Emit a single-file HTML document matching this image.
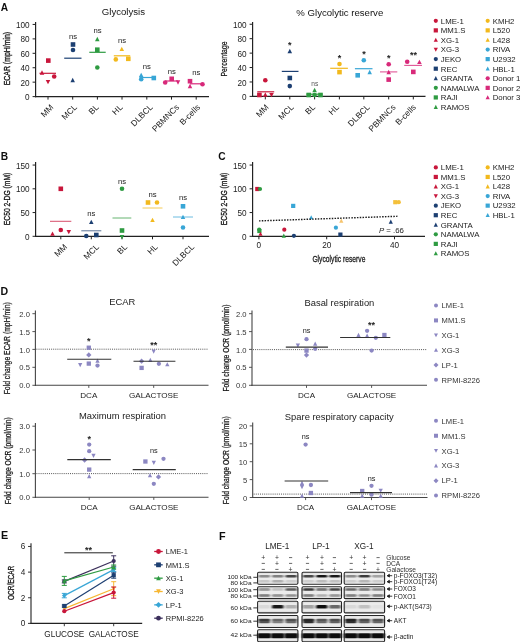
<!DOCTYPE html>
<html><head><meta charset="utf-8"><style>
html,body{margin:0;padding:0;background:#fff;}
svg{display:block;}
text{font-family:"Liberation Sans",sans-serif;}
</style></head><body>
<svg width="520" height="642" viewBox="0 0 520 642">
<rect width="520" height="642" fill="#fff"/>
<defs><filter id="gb" x="0" y="0" width="520" height="642" filterUnits="userSpaceOnUse"><feGaussianBlur stdDeviation="0.35"/></filter></defs>
<g filter="url(#gb)">
<text x="0.80" y="11.00" font-size="10.2" font-weight="bold" fill="#111" >A</text>
<text x="123.40" y="15.40" font-size="9.6" text-anchor="middle" fill="#151515" >Glycolysis</text>
<line x1="35.60" y1="22.00" x2="35.60" y2="97.20" stroke="#222" stroke-width="1.2" />
<line x1="32.60" y1="96.60" x2="35.60" y2="96.60" stroke="#222" stroke-width="1.0" />
<text x="29.60" y="100.15" font-size="8.2" text-anchor="end" fill="#222" >0</text>
<line x1="32.60" y1="82.17" x2="35.60" y2="82.17" stroke="#222" stroke-width="1.0" />
<text x="29.60" y="85.72" font-size="8.2" text-anchor="end" fill="#222" >20</text>
<line x1="32.60" y1="67.74" x2="35.60" y2="67.74" stroke="#222" stroke-width="1.0" />
<text x="29.60" y="71.29" font-size="8.2" text-anchor="end" fill="#222" >40</text>
<line x1="32.60" y1="53.31" x2="35.60" y2="53.31" stroke="#222" stroke-width="1.0" />
<text x="29.60" y="56.86" font-size="8.2" text-anchor="end" fill="#222" >60</text>
<line x1="32.60" y1="38.88" x2="35.60" y2="38.88" stroke="#222" stroke-width="1.0" />
<text x="29.60" y="42.43" font-size="8.2" text-anchor="end" fill="#222" >80</text>
<line x1="32.60" y1="24.45" x2="35.60" y2="24.45" stroke="#222" stroke-width="1.0" />
<text x="29.60" y="28.00" font-size="8.2" text-anchor="end" fill="#222" >100</text>
<line x1="35.00" y1="96.60" x2="209.00" y2="96.60" stroke="#222" stroke-width="1.2" />
<line x1="48.00" y1="96.60" x2="48.00" y2="99.60" stroke="#222" stroke-width="1.0" />
<line x1="72.70" y1="96.60" x2="72.70" y2="99.60" stroke="#222" stroke-width="1.0" />
<line x1="97.40" y1="96.60" x2="97.40" y2="99.60" stroke="#222" stroke-width="1.0" />
<line x1="122.00" y1="96.60" x2="122.00" y2="99.60" stroke="#222" stroke-width="1.0" />
<line x1="146.80" y1="96.60" x2="146.80" y2="99.60" stroke="#222" stroke-width="1.0" />
<line x1="171.50" y1="96.60" x2="171.50" y2="99.60" stroke="#222" stroke-width="1.0" />
<line x1="196.20" y1="96.60" x2="196.20" y2="99.60" stroke="#222" stroke-width="1.0" />
<text transform="translate(10.20,58.60) rotate(-90)" font-size="9.4" font-weight="normal" text-anchor="middle" textLength="53.5" lengthAdjust="spacingAndGlyphs" stroke="#1a1a1a" stroke-width="0.35" fill="#1a1a1a">ECAR (mpH/min)</text>
<text transform="translate(54.00,107.80) rotate(-45)" font-size="8.4" text-anchor="end" fill="#222">MM</text>
<text transform="translate(77.60,107.80) rotate(-45)" font-size="8.4" text-anchor="end" fill="#222">MCL</text>
<text transform="translate(99.30,107.80) rotate(-45)" font-size="8.4" text-anchor="end" fill="#222">BL</text>
<text transform="translate(123.20,107.80) rotate(-45)" font-size="8.4" text-anchor="end" fill="#222">HL</text>
<text transform="translate(153.30,107.80) rotate(-45)" font-size="8.4" text-anchor="end" fill="#222">DLBCL</text>
<text transform="translate(179.80,107.80) rotate(-45)" font-size="8.4" text-anchor="end" fill="#222">PBMNCs</text>
<text transform="translate(200.70,107.80) rotate(-45)" font-size="8.4" text-anchor="end" fill="#222">B-cells</text>
<rect x="46.00" y="58.30" width="4.60" height="4.60" fill="#C8163A"/>
<path d="M42.00,70.23L44.27,74.67L39.73,74.67Z" fill="#C8163A"/>
<circle cx="54.20" cy="76.50" r="2.30" fill="#C8163A"/>
<path d="M48.00,84.37L50.27,79.93L45.73,79.93Z" fill="#C8163A"/>
<line x1="39.50" y1="73.30" x2="56.00" y2="73.30" stroke="#C8163A" stroke-width="1.2" stroke-opacity="1.0"/>
<rect x="70.70" y="42.20" width="4.60" height="4.60" fill="#1E3F72"/>
<circle cx="73.00" cy="50.00" r="2.30" fill="#1E3F72"/>
<path d="M72.70,77.83L74.97,82.27L70.43,82.27Z" fill="#1E3F72"/>
<line x1="64.20" y1="58.20" x2="81.50" y2="58.20" stroke="#1E3F72" stroke-width="1.2" stroke-opacity="1.0"/>
<path d="M97.30,36.73L99.57,41.17L95.03,41.17Z" fill="#2F9B42"/>
<rect x="95.00" y="47.40" width="4.60" height="4.60" fill="#2F9B42"/>
<circle cx="97.30" cy="67.50" r="2.30" fill="#2F9B42"/>
<line x1="89.30" y1="52.30" x2="105.70" y2="52.30" stroke="#2F9B42" stroke-width="1.2" stroke-opacity="1.0"/>
<path d="M121.80,46.63L124.07,51.07L119.53,51.07Z" fill="#F2B91E"/>
<circle cx="115.80" cy="59.40" r="2.30" fill="#F2B91E"/>
<rect x="126.00" y="56.50" width="4.60" height="4.60" fill="#F2B91E"/>
<line x1="113.80" y1="55.80" x2="130.20" y2="55.80" stroke="#F2B91E" stroke-width="1.2" stroke-opacity="1.0"/>
<path d="M141.20,72.63L143.47,77.07L138.93,77.07Z" fill="#39A6D6"/>
<circle cx="141.20" cy="79.20" r="2.30" fill="#39A6D6"/>
<rect x="151.50" y="75.70" width="4.60" height="4.60" fill="#39A6D6"/>
<line x1="139.50" y1="77.50" x2="153.80" y2="77.50" stroke="#39A6D6" stroke-width="1.2" stroke-opacity="1.0"/>
<circle cx="165.20" cy="82.50" r="2.30" fill="#D8297A"/>
<rect x="169.40" y="76.50" width="4.60" height="4.60" fill="#D8297A"/>
<path d="M178.00,84.67L180.27,80.23L175.73,80.23Z" fill="#D8297A"/>
<line x1="165.00" y1="81.00" x2="178.00" y2="81.00" stroke="#D8297A" stroke-width="1.2" stroke-opacity="1.0"/>
<rect x="187.70" y="78.90" width="4.60" height="4.60" fill="#D8297A"/>
<path d="M190.00,83.83L192.27,88.27L187.73,88.27Z" fill="#D8297A"/>
<circle cx="202.50" cy="84.20" r="2.30" fill="#D8297A"/>
<line x1="190.00" y1="83.80" x2="202.50" y2="83.80" stroke="#D8297A" stroke-width="1.2" stroke-opacity="1.0"/>
<text x="73.00" y="39.40" font-size="7.7" text-anchor="middle" fill="#222" >ns</text>
<text x="97.50" y="33.40" font-size="7.7" text-anchor="middle" fill="#222" >ns</text>
<text x="122.00" y="43.20" font-size="7.7" text-anchor="middle" fill="#222" >ns</text>
<text x="146.80" y="69.20" font-size="7.7" text-anchor="middle" fill="#222" >ns</text>
<text x="171.70" y="73.60" font-size="7.7" text-anchor="middle" fill="#222" >ns</text>
<text x="196.20" y="75.40" font-size="7.7" text-anchor="middle" fill="#222" >ns</text>
<line x1="252.60" y1="22.00" x2="252.60" y2="97.00" stroke="#222" stroke-width="1.2" />
<line x1="249.60" y1="96.40" x2="252.60" y2="96.40" stroke="#222" stroke-width="1.0" />
<text x="246.60" y="99.95" font-size="8.2" text-anchor="end" fill="#222" >0</text>
<line x1="249.60" y1="81.97" x2="252.60" y2="81.97" stroke="#222" stroke-width="1.0" />
<text x="246.60" y="85.52" font-size="8.2" text-anchor="end" fill="#222" >20</text>
<line x1="249.60" y1="67.54" x2="252.60" y2="67.54" stroke="#222" stroke-width="1.0" />
<text x="246.60" y="71.09" font-size="8.2" text-anchor="end" fill="#222" >40</text>
<line x1="249.60" y1="53.11" x2="252.60" y2="53.11" stroke="#222" stroke-width="1.0" />
<text x="246.60" y="56.66" font-size="8.2" text-anchor="end" fill="#222" >60</text>
<line x1="249.60" y1="38.68" x2="252.60" y2="38.68" stroke="#222" stroke-width="1.0" />
<text x="246.60" y="42.23" font-size="8.2" text-anchor="end" fill="#222" >80</text>
<line x1="249.60" y1="24.25" x2="252.60" y2="24.25" stroke="#222" stroke-width="1.0" />
<text x="246.60" y="27.80" font-size="8.2" text-anchor="end" fill="#222" >100</text>
<line x1="252.00" y1="96.40" x2="425.50" y2="96.40" stroke="#222" stroke-width="1.2" />
<line x1="265.30" y1="96.40" x2="265.30" y2="99.40" stroke="#222" stroke-width="1.0" />
<line x1="289.80" y1="96.40" x2="289.80" y2="99.40" stroke="#222" stroke-width="1.0" />
<line x1="314.60" y1="96.40" x2="314.60" y2="99.40" stroke="#222" stroke-width="1.0" />
<line x1="339.40" y1="96.40" x2="339.40" y2="99.40" stroke="#222" stroke-width="1.0" />
<line x1="363.80" y1="96.40" x2="363.80" y2="99.40" stroke="#222" stroke-width="1.0" />
<line x1="388.70" y1="96.40" x2="388.70" y2="99.40" stroke="#222" stroke-width="1.0" />
<line x1="413.30" y1="96.40" x2="413.30" y2="99.40" stroke="#222" stroke-width="1.0" />
<text transform="translate(226.60,59.00) rotate(-90)" font-size="9.0" font-weight="normal" text-anchor="middle" textLength="35" lengthAdjust="spacingAndGlyphs" stroke="#1a1a1a" stroke-width="0.25" fill="#1a1a1a">Percentage</text>
<text x="339.80" y="15.60" font-size="9.6" text-anchor="middle" fill="#151515" >% Glycolytic reserve</text>
<text transform="translate(269.30,107.80) rotate(-45)" font-size="8.4" text-anchor="end" fill="#222">MM</text>
<text transform="translate(294.30,107.80) rotate(-45)" font-size="8.4" text-anchor="end" fill="#222">MCL</text>
<text transform="translate(315.80,107.80) rotate(-45)" font-size="8.4" text-anchor="end" fill="#222">BL</text>
<text transform="translate(339.60,107.80) rotate(-45)" font-size="8.4" text-anchor="end" fill="#222">HL</text>
<text transform="translate(370.40,107.80) rotate(-45)" font-size="8.4" text-anchor="end" fill="#222">DLBCL</text>
<text transform="translate(396.30,107.80) rotate(-45)" font-size="8.4" text-anchor="end" fill="#222">PBMNCs</text>
<text transform="translate(416.50,107.80) rotate(-45)" font-size="8.4" text-anchor="end" fill="#222">B-cells</text>
<circle cx="265.30" cy="80.20" r="2.30" fill="#C8163A"/>
<rect x="257.10" y="92.70" width="4.60" height="4.60" fill="#C8163A"/>
<path d="M265.30,92.23L267.57,96.67L263.03,96.67Z" fill="#C8163A"/>
<path d="M271.50,97.37L273.77,92.93L269.23,92.93Z" fill="#C8163A"/>
<line x1="257.30" y1="91.80" x2="274.20" y2="91.80" stroke="#C8163A" stroke-width="1.2" stroke-opacity="1.0"/>
<path d="M289.80,48.83L292.07,53.27L287.53,53.27Z" fill="#1E3F72"/>
<rect x="287.50" y="75.70" width="4.60" height="4.60" fill="#1E3F72"/>
<circle cx="289.80" cy="86.10" r="2.30" fill="#1E3F72"/>
<line x1="281.80" y1="71.40" x2="298.50" y2="71.40" stroke="#1E3F72" stroke-width="1.2" stroke-opacity="1.0"/>
<path d="M314.60,87.83L316.87,92.27L312.33,92.27Z" fill="#2F9B42"/>
<rect x="306.40" y="92.70" width="4.60" height="4.60" fill="#2F9B42"/>
<circle cx="314.60" cy="95.00" r="2.30" fill="#2F9B42"/>
<rect x="318.20" y="92.70" width="4.60" height="4.60" fill="#2F9B42"/>
<line x1="306.50" y1="94.20" x2="322.50" y2="94.20" stroke="#2F9B42" stroke-width="1.2" stroke-opacity="1.0"/>
<circle cx="339.50" cy="64.00" r="2.30" fill="#F2B91E"/>
<rect x="337.20" y="69.80" width="4.60" height="4.60" fill="#F2B91E"/>
<line x1="330.20" y1="68.30" x2="347.90" y2="68.30" stroke="#F2B91E" stroke-width="1.2" stroke-opacity="1.0"/>
<circle cx="363.80" cy="60.20" r="2.30" fill="#39A6D6"/>
<rect x="355.40" y="73.00" width="4.60" height="4.60" fill="#39A6D6"/>
<path d="M369.70,69.73L371.97,74.17L367.43,74.17Z" fill="#39A6D6"/>
<line x1="354.90" y1="68.70" x2="372.50" y2="68.70" stroke="#39A6D6" stroke-width="1.2" stroke-opacity="1.0"/>
<circle cx="388.70" cy="64.30" r="2.30" fill="#D8297A"/>
<path d="M388.70,69.73L390.97,74.17L386.43,74.17Z" fill="#D8297A"/>
<rect x="386.40" y="77.30" width="4.60" height="4.60" fill="#D8297A"/>
<line x1="380.00" y1="71.90" x2="397.30" y2="71.90" stroke="#D8297A" stroke-width="1.1" stroke-opacity="0.8"/>
<circle cx="407.20" cy="61.70" r="2.30" fill="#D8297A"/>
<path d="M419.40,59.63L421.67,64.07L417.13,64.07Z" fill="#D8297A"/>
<rect x="411.00" y="69.60" width="4.60" height="4.60" fill="#D8297A"/>
<line x1="404.20" y1="65.40" x2="422.00" y2="65.40" stroke="#D8297A" stroke-width="1.1" stroke-opacity="0.8"/>
<text x="289.80" y="47.50" font-size="9" text-anchor="middle" font-weight="bold" fill="#222" >*</text>
<text x="339.50" y="61.10" font-size="9" text-anchor="middle" font-weight="bold" fill="#222" >*</text>
<text x="364.00" y="57.30" font-size="9" text-anchor="middle" font-weight="bold" fill="#222" >*</text>
<text x="388.75" y="61.10" font-size="9" text-anchor="middle" font-weight="bold" fill="#222" >*</text>
<text x="413.50" y="58.40" font-size="9" text-anchor="middle" font-weight="bold" fill="#222" >**</text>
<text x="314.80" y="85.60" font-size="6.6" text-anchor="middle" fill="#555" >ns</text>
<circle cx="435.80" cy="20.80" r="2.10" fill="#C8163A"/>
<text x="440.80" y="23.60" font-size="7.8" fill="#222" >LME-1</text>
<rect x="433.70" y="28.28" width="4.20" height="4.20" fill="#C8163A"/>
<text x="440.80" y="33.18" font-size="7.8" fill="#222" >MM1.S</text>
<path d="M435.80,37.77L437.89,41.85L433.71,41.85Z" fill="#C8163A"/>
<text x="440.80" y="42.76" font-size="7.8" fill="#222" >XG-1</text>
<path d="M435.80,51.73L437.89,47.65L433.71,47.65Z" fill="#C8163A"/>
<text x="440.80" y="52.34" font-size="7.8" fill="#222" >XG-3</text>
<circle cx="435.80" cy="59.12" r="2.10" fill="#1E3F72"/>
<text x="440.80" y="61.92" font-size="7.8" fill="#222" >JEKO</text>
<rect x="433.70" y="66.60" width="4.20" height="4.20" fill="#1E3F72"/>
<text x="440.80" y="71.50" font-size="7.8" fill="#222" >REC</text>
<path d="M435.80,76.09L437.89,80.17L433.71,80.17Z" fill="#1E3F72"/>
<text x="440.80" y="81.08" font-size="7.8" fill="#222" >GRANTA</text>
<circle cx="435.80" cy="87.86" r="2.10" fill="#2F9B42"/>
<text x="440.80" y="90.66" font-size="7.8" fill="#222" >NAMALWA</text>
<rect x="433.70" y="95.34" width="4.20" height="4.20" fill="#2F9B42"/>
<text x="440.80" y="100.24" font-size="7.8" fill="#222" >RAJI</text>
<path d="M435.80,104.83L437.89,108.91L433.71,108.91Z" fill="#2F9B42"/>
<text x="440.80" y="109.82" font-size="7.8" fill="#222" >RAMOS</text>
<circle cx="487.70" cy="20.80" r="2.10" fill="#F2B91E"/>
<text x="492.70" y="23.60" font-size="7.8" fill="#222" >KMH2</text>
<rect x="485.60" y="28.28" width="4.20" height="4.20" fill="#F2B91E"/>
<text x="492.70" y="33.18" font-size="7.8" fill="#222" >L520</text>
<path d="M487.70,37.77L489.79,41.85L485.61,41.85Z" fill="#F2B91E"/>
<text x="492.70" y="42.76" font-size="7.8" fill="#222" >L428</text>
<circle cx="487.70" cy="49.54" r="2.10" fill="#39A6D6"/>
<text x="492.70" y="52.34" font-size="7.8" fill="#222" >RIVA</text>
<rect x="485.60" y="57.02" width="4.20" height="4.20" fill="#39A6D6"/>
<text x="492.70" y="61.92" font-size="7.8" fill="#222" >U2932</text>
<path d="M487.70,66.51L489.79,70.59L485.61,70.59Z" fill="#39A6D6"/>
<text x="492.70" y="71.50" font-size="7.8" fill="#222" >HBL-1</text>
<circle cx="487.70" cy="78.28" r="2.10" fill="#D8297A"/>
<text x="492.70" y="81.08" font-size="7.8" fill="#222" >Donor 1</text>
<rect x="485.60" y="85.76" width="4.20" height="4.20" fill="#D8297A"/>
<text x="492.70" y="90.66" font-size="7.8" fill="#222" >Donor 2</text>
<path d="M487.70,95.25L489.79,99.33L485.61,99.33Z" fill="#D8297A"/>
<text x="492.70" y="100.24" font-size="7.8" fill="#222" >Donor 3</text>
<text x="0.80" y="159.50" font-size="10.2" font-weight="bold" fill="#111" >B</text>
<line x1="35.60" y1="162.00" x2="35.60" y2="236.90" stroke="#222" stroke-width="1.2" />
<line x1="32.60" y1="236.30" x2="35.60" y2="236.30" stroke="#222" stroke-width="1.0" />
<text x="29.60" y="239.85" font-size="8.2" text-anchor="end" fill="#222" >0</text>
<line x1="32.60" y1="212.55" x2="35.60" y2="212.55" stroke="#222" stroke-width="1.0" />
<text x="29.60" y="216.10" font-size="8.2" text-anchor="end" fill="#222" >50</text>
<line x1="32.60" y1="188.80" x2="35.60" y2="188.80" stroke="#222" stroke-width="1.0" />
<text x="29.60" y="192.35" font-size="8.2" text-anchor="end" fill="#222" >100</text>
<line x1="32.60" y1="165.05" x2="35.60" y2="165.05" stroke="#222" stroke-width="1.0" />
<text x="29.60" y="168.60" font-size="8.2" text-anchor="end" fill="#222" >150</text>
<line x1="35.00" y1="236.30" x2="209.00" y2="236.30" stroke="#222" stroke-width="1.2" />
<line x1="60.80" y1="236.30" x2="60.80" y2="239.30" stroke="#222" stroke-width="1.0" />
<line x1="91.30" y1="236.30" x2="91.30" y2="239.30" stroke="#222" stroke-width="1.0" />
<line x1="122.00" y1="236.30" x2="122.00" y2="239.30" stroke="#222" stroke-width="1.0" />
<line x1="152.50" y1="236.30" x2="152.50" y2="239.30" stroke="#222" stroke-width="1.0" />
<line x1="183.00" y1="236.30" x2="183.00" y2="239.30" stroke="#222" stroke-width="1.0" />
<text transform="translate(10.20,199.00) rotate(-90)" font-size="9.2" font-weight="normal" text-anchor="middle" textLength="52.5" lengthAdjust="spacingAndGlyphs" stroke="#1a1a1a" stroke-width="0.35" fill="#1a1a1a">EC50 2-DG (mM)</text>
<text transform="translate(67.60,247.50) rotate(-45)" font-size="8.4" text-anchor="end" fill="#222">MM</text>
<text transform="translate(99.60,247.50) rotate(-45)" font-size="8.4" text-anchor="end" fill="#222">MCL</text>
<text transform="translate(127.80,247.50) rotate(-45)" font-size="8.4" text-anchor="end" fill="#222">BL</text>
<text transform="translate(158.30,247.50) rotate(-45)" font-size="8.4" text-anchor="end" fill="#222">HL</text>
<text transform="translate(194.80,247.50) rotate(-45)" font-size="8.4" text-anchor="end" fill="#222">DLBCL</text>
<rect x="58.50" y="186.50" width="4.60" height="4.60" fill="#C8163A"/>
<circle cx="60.80" cy="230.00" r="2.30" fill="#C8163A"/>
<path d="M52.50,231.43L54.77,235.87L50.23,235.87Z" fill="#C8163A"/>
<path d="M68.80,234.37L71.07,229.93L66.53,229.93Z" fill="#C8163A"/>
<line x1="50.00" y1="221.30" x2="71.30" y2="221.30" stroke="#C8163A" stroke-width="1.0" stroke-opacity="0.75"/>
<path d="M91.30,219.63L93.57,224.07L89.03,224.07Z" fill="#1E3F72"/>
<circle cx="86.30" cy="236.00" r="2.30" fill="#1E3F72"/>
<rect x="94.00" y="232.70" width="4.60" height="4.60" fill="#1E3F72"/>
<line x1="81.30" y1="230.80" x2="101.30" y2="230.80" stroke="#1E3F72" stroke-width="1.0" stroke-opacity="0.75"/>
<circle cx="122.00" cy="188.80" r="2.30" fill="#2F9B42"/>
<rect x="119.70" y="228.20" width="4.60" height="4.60" fill="#2F9B42"/>
<path d="M122.00,239.37L124.27,234.93L119.73,234.93Z" fill="#2F9B42"/>
<line x1="112.50" y1="218.00" x2="131.30" y2="218.00" stroke="#2F9B42" stroke-width="1.0" stroke-opacity="0.75"/>
<rect x="145.70" y="200.20" width="4.60" height="4.60" fill="#F2B91E"/>
<circle cx="157.00" cy="202.50" r="2.30" fill="#F2B91E"/>
<path d="M152.50,217.63L154.77,222.07L150.23,222.07Z" fill="#F2B91E"/>
<line x1="142.50" y1="208.00" x2="162.50" y2="208.00" stroke="#F2B91E" stroke-width="1.0" stroke-opacity="0.75"/>
<rect x="180.70" y="204.00" width="4.60" height="4.60" fill="#39A6D6"/>
<path d="M183.00,214.63L185.27,219.07L180.73,219.07Z" fill="#39A6D6"/>
<circle cx="183.00" cy="227.50" r="2.30" fill="#39A6D6"/>
<line x1="173.00" y1="217.00" x2="193.00" y2="217.00" stroke="#39A6D6" stroke-width="1.0" stroke-opacity="0.75"/>
<text x="91.30" y="216.20" font-size="7.7" text-anchor="middle" fill="#222" >ns</text>
<text x="122.00" y="183.70" font-size="7.7" text-anchor="middle" fill="#222" >ns</text>
<text x="152.50" y="196.90" font-size="7.7" text-anchor="middle" fill="#222" >ns</text>
<text x="183.00" y="200.40" font-size="7.7" text-anchor="middle" fill="#222" >ns</text>
<text x="218.30" y="159.80" font-size="10.2" font-weight="bold" fill="#111" >C</text>
<line x1="252.60" y1="162.00" x2="252.60" y2="236.90" stroke="#222" stroke-width="1.2" />
<line x1="249.60" y1="236.30" x2="252.60" y2="236.30" stroke="#222" stroke-width="1.0" />
<text x="246.60" y="239.85" font-size="8.2" text-anchor="end" fill="#222" >0</text>
<line x1="249.60" y1="212.55" x2="252.60" y2="212.55" stroke="#222" stroke-width="1.0" />
<text x="246.60" y="216.10" font-size="8.2" text-anchor="end" fill="#222" >50</text>
<line x1="249.60" y1="188.80" x2="252.60" y2="188.80" stroke="#222" stroke-width="1.0" />
<text x="246.60" y="192.35" font-size="8.2" text-anchor="end" fill="#222" >100</text>
<line x1="249.60" y1="165.05" x2="252.60" y2="165.05" stroke="#222" stroke-width="1.0" />
<text x="246.60" y="168.60" font-size="8.2" text-anchor="end" fill="#222" >150</text>
<line x1="252.00" y1="236.30" x2="425.00" y2="236.30" stroke="#222" stroke-width="1.2" />
<line x1="258.90" y1="236.30" x2="258.90" y2="239.30" stroke="#222" stroke-width="1.0" />
<line x1="326.70" y1="236.30" x2="326.70" y2="239.30" stroke="#222" stroke-width="1.0" />
<line x1="394.50" y1="236.30" x2="394.50" y2="239.30" stroke="#222" stroke-width="1.0" />
<text x="258.90" y="247.90" font-size="8.2" text-anchor="middle" fill="#222" >0</text>
<text x="326.70" y="247.90" font-size="8.2" text-anchor="middle" fill="#222" >20</text>
<text x="394.50" y="247.90" font-size="8.2" text-anchor="middle" fill="#222" >40</text>
<text transform="translate(227.00,199.00) rotate(-90)" font-size="9.2" font-weight="normal" text-anchor="middle" textLength="52.5" lengthAdjust="spacingAndGlyphs" stroke="#1a1a1a" stroke-width="0.35" fill="#1a1a1a">EC50 2-DG (mM)</text>
<text x="338.90" y="262.00" font-size="9.8" text-anchor="middle" textLength="53" lengthAdjust="spacingAndGlyphs" fill="#1a1a1a" stroke="#1a1a1a" stroke-width="0.3">Glycolytic reserve</text>
<rect x="255.20" y="186.90" width="4.20" height="4.20" fill="#C8163A"/>
<circle cx="260.00" cy="189.00" r="2.10" fill="#2F9B42"/>
<rect x="291.10" y="203.80" width="4.20" height="4.20" fill="#39A6D6"/>
<path d="M311.20,215.21L313.29,219.29L309.11,219.29Z" fill="#39A6D6"/>
<path d="M341.30,218.61L343.39,222.69L339.21,222.69Z" fill="#F6C46E"/>
<circle cx="335.90" cy="227.70" r="2.10" fill="#39A6D6"/>
<rect x="338.30" y="232.50" width="4.20" height="4.20" fill="#1E3F72"/>
<circle cx="284.30" cy="229.70" r="2.10" fill="#C8163A"/>
<circle cx="259.20" cy="229.60" r="2.10" fill="#2F9B42"/>
<rect x="257.30" y="228.90" width="4.20" height="4.20" fill="#2F9B42"/>
<path d="M260.50,231.71L262.59,235.79L258.41,235.79Z" fill="#C8163A"/>
<path d="M283.80,233.61L285.89,237.69L281.71,237.69Z" fill="#2F9B42"/>
<circle cx="293.90" cy="235.80" r="2.10" fill="#1E3F72"/>
<rect x="393.20" y="200.10" width="4.20" height="4.20" fill="#F4C03A"/>
<circle cx="398.80" cy="202.20" r="2.10" fill="#F4C03A"/>
<path d="M390.80,219.61L392.89,223.69L388.71,223.69Z" fill="#1E3F72"/>
<line x1="259.00" y1="220.90" x2="397.40" y2="216.30" stroke="#1a1a1a" stroke-width="1.4" stroke-dasharray="1.5,1.3"/>
<text x="379" y="233.2" font-size="7.8" fill="#222"><tspan font-style="italic">P</tspan> = .66</text>
<circle cx="435.80" cy="167.40" r="2.10" fill="#C8163A"/>
<text x="440.80" y="170.20" font-size="7.8" fill="#222" >LME-1</text>
<rect x="433.70" y="174.86" width="4.20" height="4.20" fill="#C8163A"/>
<text x="440.80" y="179.76" font-size="7.8" fill="#222" >MM1.S</text>
<path d="M435.80,184.33L437.89,188.41L433.71,188.41Z" fill="#C8163A"/>
<text x="440.80" y="189.32" font-size="7.8" fill="#222" >XG-1</text>
<path d="M435.80,198.27L437.89,194.19L433.71,194.19Z" fill="#C8163A"/>
<text x="440.80" y="198.88" font-size="7.8" fill="#222" >XG-3</text>
<circle cx="435.80" cy="205.64" r="2.10" fill="#1E3F72"/>
<text x="440.80" y="208.44" font-size="7.8" fill="#222" >JEKO</text>
<rect x="433.70" y="213.10" width="4.20" height="4.20" fill="#1E3F72"/>
<text x="440.80" y="218.00" font-size="7.8" fill="#222" >REC</text>
<path d="M435.80,222.57L437.89,226.65L433.71,226.65Z" fill="#1E3F72"/>
<text x="440.80" y="227.56" font-size="7.8" fill="#222" >GRANTA</text>
<circle cx="435.80" cy="234.32" r="2.10" fill="#2F9B42"/>
<text x="440.80" y="237.12" font-size="7.8" fill="#222" >NAMALWA</text>
<rect x="433.70" y="241.78" width="4.20" height="4.20" fill="#2F9B42"/>
<text x="440.80" y="246.68" font-size="7.8" fill="#222" >RAJI</text>
<path d="M435.80,251.25L437.89,255.33L433.71,255.33Z" fill="#2F9B42"/>
<text x="440.80" y="256.24" font-size="7.8" fill="#222" >RAMOS</text>
<circle cx="487.70" cy="167.40" r="2.10" fill="#F2B91E"/>
<text x="492.70" y="170.20" font-size="7.8" fill="#222" >KMH2</text>
<rect x="485.60" y="174.86" width="4.20" height="4.20" fill="#F2B91E"/>
<text x="492.70" y="179.76" font-size="7.8" fill="#222" >L520</text>
<path d="M487.70,184.33L489.79,188.41L485.61,188.41Z" fill="#F2B91E"/>
<text x="492.70" y="189.32" font-size="7.8" fill="#222" >L428</text>
<circle cx="487.70" cy="196.08" r="2.10" fill="#39A6D6"/>
<text x="492.70" y="198.88" font-size="7.8" fill="#222" >RIVA</text>
<rect x="485.60" y="203.54" width="4.20" height="4.20" fill="#39A6D6"/>
<text x="492.70" y="208.44" font-size="7.8" fill="#222" >U2932</text>
<path d="M487.70,213.01L489.79,217.09L485.61,217.09Z" fill="#39A6D6"/>
<text x="492.70" y="218.00" font-size="7.8" fill="#222" >HBL-1</text>
<text x="0.50" y="294.70" font-size="10.6" font-weight="bold" fill="#111" >D</text>
<line x1="35.40" y1="310.50" x2="35.40" y2="385.90" stroke="#444444" stroke-width="1.1" />
<line x1="32.40" y1="313.70" x2="35.40" y2="313.70" stroke="#444444" stroke-width="0.9" />
<text x="29.90" y="316.80" font-size="7.6" text-anchor="end" fill="#333" >2.0</text>
<line x1="32.40" y1="331.60" x2="35.40" y2="331.60" stroke="#444444" stroke-width="0.9" />
<text x="29.90" y="334.70" font-size="7.6" text-anchor="end" fill="#333" >1.5</text>
<line x1="32.40" y1="349.40" x2="35.40" y2="349.40" stroke="#444444" stroke-width="0.9" />
<text x="29.90" y="352.50" font-size="7.6" text-anchor="end" fill="#333" >1.0</text>
<line x1="32.40" y1="367.30" x2="35.40" y2="367.30" stroke="#444444" stroke-width="0.9" />
<text x="29.90" y="370.40" font-size="7.6" text-anchor="end" fill="#333" >0.5</text>
<line x1="32.40" y1="385.30" x2="35.40" y2="385.30" stroke="#444444" stroke-width="0.9" />
<text x="29.90" y="388.40" font-size="7.6" text-anchor="end" fill="#333" >0.0</text>
<line x1="34.90" y1="385.30" x2="208.50" y2="385.30" stroke="#444444" stroke-width="1.1" />
<line x1="88.80" y1="385.30" x2="88.80" y2="387.90" stroke="#444444" stroke-width="0.9" />
<line x1="153.70" y1="385.30" x2="153.70" y2="387.90" stroke="#444444" stroke-width="0.9" />
<text x="122.30" y="305.00" font-size="9.4" text-anchor="middle" fill="#222" >ECAR</text>
<text transform="translate(10.30,348.30) rotate(-90)" font-size="8.5" font-weight="normal" text-anchor="middle" textLength="92" lengthAdjust="spacingAndGlyphs" stroke="#1a1a1a" stroke-width="0.25" fill="#1a1a1a">Fold change ECAR (mpH/min)</text>
<line x1="36.40" y1="349.20" x2="208.50" y2="349.20" stroke="#444" stroke-width="0.9" stroke-dasharray="1,1.1"/>
<text x="88.80" y="398.10" font-size="8.1" text-anchor="middle" fill="#222" >DCA</text>
<text x="153.70" y="398.10" font-size="8.1" text-anchor="middle" fill="#222" >GALACTOSE</text>
<rect x="86.65" y="345.55" width="4.30" height="4.30" fill="#8C87C2"/>
<path d="M88.80,352.25L91.45,354.90L88.80,357.55L86.15,354.90Z" fill="#8C87C2"/>
<path d="M80.20,367.24L82.34,363.06L78.06,363.06Z" fill="#8C87C2"/>
<rect x="86.65" y="361.45" width="4.30" height="4.30" fill="#8C87C2"/>
<path d="M97.50,358.46L99.64,362.63L95.36,362.63Z" fill="#8C87C2"/>
<circle cx="97.50" cy="365.60" r="2.15" fill="#8C87C2"/>
<line x1="67.20" y1="359.20" x2="111.30" y2="359.20" stroke="#333" stroke-width="1.05" />
<path d="M153.70,353.63L155.83,349.46L151.56,349.46Z" fill="#8C87C2"/>
<path d="M141.60,358.55L144.25,361.20L141.60,363.85L138.95,361.20Z" fill="#8C87C2"/>
<path d="M150.30,357.87L152.44,362.04L148.17,362.04Z" fill="#8C87C2"/>
<rect x="139.45" y="365.75" width="4.30" height="4.30" fill="#8C87C2"/>
<circle cx="158.90" cy="363.80" r="2.15" fill="#8C87C2"/>
<path d="M167.30,362.16L169.44,366.33L165.17,366.33Z" fill="#8C87C2"/>
<line x1="133.50" y1="361.20" x2="175.40" y2="361.20" stroke="#333" stroke-width="1.05" />
<text x="88.80" y="344.40" font-size="9" text-anchor="middle" font-weight="bold" fill="#222" >*</text>
<text x="153.70" y="348.40" font-size="9" text-anchor="middle" font-weight="bold" fill="#222" >**</text>
<line x1="252.00" y1="310.50" x2="252.00" y2="385.90" stroke="#444444" stroke-width="1.1" />
<line x1="249.00" y1="313.70" x2="252.00" y2="313.70" stroke="#444444" stroke-width="0.9" />
<text x="246.50" y="316.80" font-size="7.6" text-anchor="end" fill="#333" >2.0</text>
<line x1="249.00" y1="331.60" x2="252.00" y2="331.60" stroke="#444444" stroke-width="0.9" />
<text x="246.50" y="334.70" font-size="7.6" text-anchor="end" fill="#333" >1.5</text>
<line x1="249.00" y1="349.40" x2="252.00" y2="349.40" stroke="#444444" stroke-width="0.9" />
<text x="246.50" y="352.50" font-size="7.6" text-anchor="end" fill="#333" >1.0</text>
<line x1="249.00" y1="367.30" x2="252.00" y2="367.30" stroke="#444444" stroke-width="0.9" />
<text x="246.50" y="370.40" font-size="7.6" text-anchor="end" fill="#333" >0.5</text>
<line x1="249.00" y1="385.30" x2="252.00" y2="385.30" stroke="#444444" stroke-width="0.9" />
<text x="246.50" y="388.40" font-size="7.6" text-anchor="end" fill="#333" >0.0</text>
<line x1="251.50" y1="385.30" x2="427.00" y2="385.30" stroke="#444444" stroke-width="1.1" />
<line x1="306.50" y1="385.30" x2="306.50" y2="387.90" stroke="#444444" stroke-width="0.9" />
<line x1="371.60" y1="385.30" x2="371.60" y2="387.90" stroke="#444444" stroke-width="0.9" />
<text x="339.40" y="306.00" font-size="9.4" text-anchor="middle" fill="#222" >Basal respiration</text>
<text transform="translate(229.00,348.00) rotate(-90)" font-size="8.5" font-weight="normal" text-anchor="middle" textLength="87" lengthAdjust="spacingAndGlyphs" stroke="#1a1a1a" stroke-width="0.25" fill="#1a1a1a">Fold change OCR (pmol/min)</text>
<line x1="253.00" y1="349.60" x2="427.00" y2="349.60" stroke="#444" stroke-width="0.9" stroke-dasharray="1,1.1"/>
<text x="306.50" y="398.10" font-size="8.1" text-anchor="middle" fill="#222" >DCA</text>
<text x="371.60" y="398.10" font-size="8.1" text-anchor="middle" fill="#222" >GALACTOSE</text>
<circle cx="306.50" cy="339.20" r="2.15" fill="#8C87C2"/>
<path d="M315.20,341.46L317.33,345.63L313.06,345.63Z" fill="#8C87C2"/>
<path d="M297.90,347.63L300.03,343.46L295.76,343.46Z" fill="#8C87C2"/>
<circle cx="315.20" cy="348.80" r="2.15" fill="#8C87C2"/>
<rect x="304.35" y="348.45" width="4.30" height="4.30" fill="#8C87C2"/>
<path d="M306.50,352.45L309.15,355.10L306.50,357.75L303.85,355.10Z" fill="#8C87C2"/>
<line x1="285.80" y1="347.10" x2="328.00" y2="347.10" stroke="#333" stroke-width="1.05" />
<circle cx="367.10" cy="330.80" r="2.15" fill="#8C87C2"/>
<path d="M358.50,332.76L360.63,336.94L356.37,336.94Z" fill="#8C87C2"/>
<path d="M367.10,333.46L369.24,337.63L364.97,337.63Z" fill="#8C87C2"/>
<circle cx="375.80" cy="337.80" r="2.15" fill="#8C87C2"/>
<rect x="382.25" y="332.85" width="4.30" height="4.30" fill="#8C87C2"/>
<circle cx="371.60" cy="350.60" r="2.15" fill="#8C87C2"/>
<line x1="340.10" y1="337.40" x2="390.30" y2="337.40" stroke="#333" stroke-width="1.05" />
<text x="306.50" y="332.90" font-size="7.3" text-anchor="middle" fill="#222" >ns</text>
<text x="371.60" y="328.10" font-size="9" text-anchor="middle" font-weight="bold" fill="#222" >**</text>
<line x1="35.40" y1="423.00" x2="35.40" y2="497.90" stroke="#444444" stroke-width="1.1" />
<line x1="32.40" y1="426.20" x2="35.40" y2="426.20" stroke="#444444" stroke-width="0.9" />
<text x="29.90" y="429.30" font-size="7.6" text-anchor="end" fill="#333" >3.0</text>
<line x1="32.40" y1="450.00" x2="35.40" y2="450.00" stroke="#444444" stroke-width="0.9" />
<text x="29.90" y="453.10" font-size="7.6" text-anchor="end" fill="#333" >2.0</text>
<line x1="32.40" y1="473.70" x2="35.40" y2="473.70" stroke="#444444" stroke-width="0.9" />
<text x="29.90" y="476.80" font-size="7.6" text-anchor="end" fill="#333" >1.0</text>
<line x1="32.40" y1="497.30" x2="35.40" y2="497.30" stroke="#444444" stroke-width="0.9" />
<text x="29.90" y="500.40" font-size="7.6" text-anchor="end" fill="#333" >0.0</text>
<line x1="34.90" y1="497.30" x2="208.50" y2="497.30" stroke="#444444" stroke-width="1.1" />
<line x1="89.20" y1="497.30" x2="89.20" y2="499.90" stroke="#444444" stroke-width="0.9" />
<line x1="153.80" y1="497.30" x2="153.80" y2="499.90" stroke="#444444" stroke-width="0.9" />
<text x="122.50" y="419.00" font-size="9.4" text-anchor="middle" fill="#222" >Maximum respiration</text>
<text transform="translate(10.50,460.70) rotate(-90)" font-size="8.5" font-weight="normal" text-anchor="middle" textLength="87" lengthAdjust="spacingAndGlyphs" stroke="#1a1a1a" stroke-width="0.25" fill="#1a1a1a">Fold change OCR (pmol/min)</text>
<line x1="36.40" y1="473.60" x2="208.50" y2="473.60" stroke="#444" stroke-width="0.9" stroke-dasharray="1,1.1"/>
<text x="89.20" y="510.10" font-size="8.1" text-anchor="middle" fill="#222" >DCA</text>
<text x="153.80" y="510.10" font-size="8.1" text-anchor="middle" fill="#222" >GALACTOSE</text>
<circle cx="89.20" cy="444.60" r="2.15" fill="#8C87C2"/>
<circle cx="89.20" cy="451.20" r="2.15" fill="#8C87C2"/>
<path d="M93.50,458.04L95.64,453.87L91.36,453.87Z" fill="#8C87C2"/>
<path d="M84.60,457.35L87.25,460.00L84.60,462.65L81.95,460.00Z" fill="#8C87C2"/>
<rect x="87.05" y="467.45" width="4.30" height="4.30" fill="#8C87C2"/>
<path d="M89.20,473.96L91.34,478.13L87.06,478.13Z" fill="#8C87C2"/>
<line x1="67.30" y1="459.60" x2="110.80" y2="459.60" stroke="#333" stroke-width="1.05" />
<rect x="143.25" y="459.35" width="4.30" height="4.30" fill="#8C87C2"/>
<path d="M153.80,464.94L155.94,460.76L151.67,460.76Z" fill="#8C87C2"/>
<circle cx="163.50" cy="458.80" r="2.15" fill="#8C87C2"/>
<path d="M150.00,473.16L152.13,477.33L147.87,477.33Z" fill="#8C87C2"/>
<path d="M158.50,474.25L161.15,476.90L158.50,479.55L155.85,476.90Z" fill="#8C87C2"/>
<circle cx="153.80" cy="483.80" r="2.15" fill="#8C87C2"/>
<line x1="132.70" y1="469.60" x2="175.80" y2="469.60" stroke="#333" stroke-width="1.05" />
<text x="89.20" y="442.20" font-size="9" text-anchor="middle" font-weight="bold" fill="#222" >*</text>
<text x="153.80" y="452.50" font-size="7.3" text-anchor="middle" fill="#222" >ns</text>
<line x1="252.70" y1="422.50" x2="252.70" y2="498.10" stroke="#444444" stroke-width="1.1" />
<line x1="249.70" y1="425.90" x2="252.70" y2="425.90" stroke="#444444" stroke-width="0.9" />
<text x="247.20" y="429.00" font-size="7.6" text-anchor="end" fill="#333" >20</text>
<line x1="249.70" y1="443.80" x2="252.70" y2="443.80" stroke="#444444" stroke-width="0.9" />
<text x="247.20" y="446.90" font-size="7.6" text-anchor="end" fill="#333" >15</text>
<line x1="249.70" y1="461.70" x2="252.70" y2="461.70" stroke="#444444" stroke-width="0.9" />
<text x="247.20" y="464.80" font-size="7.6" text-anchor="end" fill="#333" >10</text>
<line x1="249.70" y1="479.60" x2="252.70" y2="479.60" stroke="#444444" stroke-width="0.9" />
<text x="247.20" y="482.70" font-size="7.6" text-anchor="end" fill="#333" >5</text>
<line x1="249.70" y1="497.50" x2="252.70" y2="497.50" stroke="#444444" stroke-width="0.9" />
<text x="247.20" y="500.60" font-size="7.6" text-anchor="end" fill="#333" >0</text>
<line x1="252.20" y1="497.50" x2="427.50" y2="497.50" stroke="#444444" stroke-width="1.1" />
<line x1="305.60" y1="497.50" x2="305.60" y2="500.10" stroke="#444444" stroke-width="0.9" />
<line x1="371.50" y1="497.50" x2="371.50" y2="500.10" stroke="#444444" stroke-width="0.9" />
<text x="339.30" y="420.00" font-size="9.4" text-anchor="middle" fill="#222" >Spare respiratory capacity</text>
<text transform="translate(229.30,460.20) rotate(-90)" font-size="8.5" font-weight="normal" text-anchor="middle" textLength="88" lengthAdjust="spacingAndGlyphs" stroke="#1a1a1a" stroke-width="0.25" fill="#1a1a1a">Fold change OCR (pmol/min)</text>
<line x1="253.70" y1="494.10" x2="427.50" y2="494.10" stroke="#444" stroke-width="0.9" stroke-dasharray="1,1.1"/>
<text x="305.60" y="510.30" font-size="8.1" text-anchor="middle" fill="#222" >DCA</text>
<text x="371.50" y="510.30" font-size="8.1" text-anchor="middle" fill="#222" >GALACTOSE</text>
<circle cx="305.60" cy="444.60" r="2.15" fill="#8C87C2"/>
<path d="M302.00,480.76L304.13,484.94L299.87,484.94Z" fill="#8C87C2"/>
<path d="M302.00,489.24L304.13,485.06L299.87,485.06Z" fill="#8C87C2"/>
<circle cx="310.90" cy="485.00" r="2.15" fill="#8C87C2"/>
<rect x="308.75" y="490.85" width="4.30" height="4.30" fill="#8C87C2"/>
<path d="M302.00,493.66L304.13,497.83L299.87,497.83Z" fill="#8C87C2"/>
<line x1="284.60" y1="480.90" x2="328.20" y2="480.90" stroke="#333" stroke-width="1.05" />
<circle cx="371.50" cy="485.80" r="2.15" fill="#8C87C2"/>
<rect x="360.05" y="488.85" width="4.30" height="4.30" fill="#8C87C2"/>
<path d="M362.20,493.66L364.33,497.83L360.06,497.83Z" fill="#8C87C2"/>
<circle cx="371.50" cy="494.70" r="2.15" fill="#8C87C2"/>
<path d="M380.70,492.84L382.83,488.67L378.56,488.67Z" fill="#8C87C2"/>
<path d="M380.70,493.66L382.83,497.83L378.56,497.83Z" fill="#8C87C2"/>
<line x1="350.00" y1="492.60" x2="392.00" y2="492.60" stroke="#333" stroke-width="1.05" />
<text x="305.60" y="438.90" font-size="7.3" text-anchor="middle" fill="#222" >ns</text>
<text x="371.50" y="481.20" font-size="7.3" text-anchor="middle" fill="#222" >ns</text>
<circle cx="436.00" cy="305.60" r="2.00" fill="#8C87C2"/>
<text x="441.60" y="308.40" font-size="7.6" fill="#333" >LME-1</text>
<circle cx="436.00" cy="420.80" r="2.00" fill="#8C87C2"/>
<text x="441.60" y="423.60" font-size="7.6" fill="#333" >LME-1</text>
<rect x="434.00" y="318.42" width="4.00" height="4.00" fill="#8C87C2"/>
<text x="441.60" y="323.22" font-size="7.6" fill="#333" >MM1.S</text>
<rect x="434.00" y="433.76" width="4.00" height="4.00" fill="#8C87C2"/>
<text x="441.60" y="438.56" font-size="7.6" fill="#333" >MM1.S</text>
<path d="M436.00,337.34L438.00,333.44L434.00,333.44Z" fill="#8C87C2"/>
<text x="441.60" y="338.04" font-size="7.6" fill="#333" >XG-1</text>
<path d="M436.00,452.82L438.00,448.92L434.00,448.92Z" fill="#8C87C2"/>
<text x="441.60" y="453.52" font-size="7.6" fill="#333" >XG-1</text>
<path d="M436.00,347.96L438.00,351.86L434.00,351.86Z" fill="#8C87C2"/>
<text x="441.60" y="352.86" font-size="7.6" fill="#333" >XG-3</text>
<path d="M436.00,463.58L438.00,467.48L434.00,467.48Z" fill="#8C87C2"/>
<text x="441.60" y="468.48" font-size="7.6" fill="#333" >XG-3</text>
<path d="M436.00,362.38L438.50,364.88L436.00,367.38L433.50,364.88Z" fill="#8C87C2"/>
<text x="441.60" y="367.68" font-size="7.6" fill="#333" >LP-1</text>
<path d="M436.00,478.14L438.50,480.64L436.00,483.14L433.50,480.64Z" fill="#8C87C2"/>
<text x="441.60" y="483.44" font-size="7.6" fill="#333" >LP-1</text>
<circle cx="436.00" cy="379.70" r="2.00" fill="#8C87C2"/>
<text x="441.60" y="382.50" font-size="7.6" fill="#333" >RPMI-8226</text>
<circle cx="436.00" cy="495.60" r="2.00" fill="#8C87C2"/>
<text x="441.60" y="498.40" font-size="7.6" fill="#333" >RPMI-8226</text>
<text x="0.90" y="539.00" font-size="10.8" font-weight="bold" fill="#111" >E</text>
<line x1="31.00" y1="543.20" x2="31.00" y2="623.90" stroke="#222" stroke-width="1.1" />
<line x1="28.00" y1="623.40" x2="31.00" y2="623.40" stroke="#222" stroke-width="0.9" />
<text x="25.20" y="626.40" font-size="8.2" text-anchor="end" fill="#222" >0</text>
<line x1="28.00" y1="597.76" x2="31.00" y2="597.76" stroke="#222" stroke-width="0.9" />
<text x="25.20" y="600.76" font-size="8.2" text-anchor="end" fill="#222" >2</text>
<line x1="28.00" y1="572.12" x2="31.00" y2="572.12" stroke="#222" stroke-width="0.9" />
<text x="25.20" y="575.12" font-size="8.2" text-anchor="end" fill="#222" >4</text>
<line x1="28.00" y1="546.48" x2="31.00" y2="546.48" stroke="#222" stroke-width="0.9" />
<text x="25.20" y="549.48" font-size="8.2" text-anchor="end" fill="#222" >6</text>
<line x1="30.50" y1="623.40" x2="142.20" y2="623.40" stroke="#222" stroke-width="1.1" />
<line x1="64.30" y1="623.40" x2="64.30" y2="626.20" stroke="#222" stroke-width="0.9" />
<line x1="113.70" y1="623.40" x2="113.70" y2="626.20" stroke="#222" stroke-width="0.9" />
<text x="64.30" y="637.30" font-size="8.2" text-anchor="middle" fill="#222" >GLUCOSE</text>
<text x="113.70" y="637.30" font-size="8.2" text-anchor="middle" fill="#222" >GALACTOSE</text>
<text transform="translate(14.00,582.90) rotate(-90)" font-size="9.2" font-weight="normal" text-anchor="middle" textLength="34" lengthAdjust="spacingAndGlyphs" stroke="#1a1a1a" stroke-width="0.3" fill="#1a1a1a">OCR/ECAR</text>
<line x1="64.30" y1="552.80" x2="112.80" y2="552.80" stroke="#222" stroke-width="1.0" />
<text x="88.60" y="553.00" font-size="9" text-anchor="middle" font-weight="bold" fill="#222" >**</text>
<line x1="64.30" y1="608.60" x2="113.70" y2="588.70" stroke="#F7B733" stroke-width="1.2" />
<path d="M64.30,610.79L66.39,606.71L62.21,606.71Z" fill="#F7B733"/>
<line x1="113.70" y1="581.70" x2="113.70" y2="595.70" stroke="#F7B733" stroke-width="1.0" />
<line x1="111.20" y1="581.70" x2="116.20" y2="581.70" stroke="#F7B733" stroke-width="1.0" />
<line x1="111.20" y1="595.70" x2="116.20" y2="595.70" stroke="#F7B733" stroke-width="1.0" />
<path d="M113.70,590.89L115.79,586.81L111.61,586.81Z" fill="#F7B733"/>
<line x1="64.30" y1="611.20" x2="113.70" y2="592.60" stroke="#C8163A" stroke-width="1.2" />
<circle cx="64.30" cy="611.20" r="2.10" fill="#C8163A"/>
<line x1="113.70" y1="587.00" x2="113.70" y2="598.20" stroke="#C8163A" stroke-width="1.0" />
<line x1="111.20" y1="587.00" x2="116.20" y2="587.00" stroke="#C8163A" stroke-width="1.0" />
<line x1="111.20" y1="598.20" x2="116.20" y2="598.20" stroke="#C8163A" stroke-width="1.0" />
<circle cx="113.70" cy="592.60" r="2.10" fill="#C8163A"/>
<line x1="64.30" y1="606.00" x2="113.70" y2="575.20" stroke="#1E3F72" stroke-width="1.2" />
<line x1="64.30" y1="605.00" x2="64.30" y2="607.00" stroke="#1E3F72" stroke-width="1.0" />
<line x1="61.80" y1="605.00" x2="66.80" y2="605.00" stroke="#1E3F72" stroke-width="1.0" />
<line x1="61.80" y1="607.00" x2="66.80" y2="607.00" stroke="#1E3F72" stroke-width="1.0" />
<rect x="62.20" y="603.90" width="4.20" height="4.20" fill="#1E3F72"/>
<line x1="113.70" y1="572.20" x2="113.70" y2="578.20" stroke="#1E3F72" stroke-width="1.0" />
<line x1="111.20" y1="572.20" x2="116.20" y2="572.20" stroke="#1E3F72" stroke-width="1.0" />
<line x1="111.20" y1="578.20" x2="116.20" y2="578.20" stroke="#1E3F72" stroke-width="1.0" />
<rect x="111.60" y="573.10" width="4.20" height="4.20" fill="#1E3F72"/>
<line x1="64.30" y1="595.60" x2="113.70" y2="569.60" stroke="#39A6D6" stroke-width="1.2" />
<line x1="64.30" y1="593.40" x2="64.30" y2="597.80" stroke="#39A6D6" stroke-width="1.0" />
<line x1="61.80" y1="593.40" x2="66.80" y2="593.40" stroke="#39A6D6" stroke-width="1.0" />
<line x1="61.80" y1="597.80" x2="66.80" y2="597.80" stroke="#39A6D6" stroke-width="1.0" />
<path d="M64.30,593.30L66.60,595.60L64.30,597.90L62.00,595.60Z" fill="#39A6D6"/>
<line x1="113.70" y1="567.60" x2="113.70" y2="571.60" stroke="#39A6D6" stroke-width="1.0" />
<line x1="111.20" y1="567.60" x2="116.20" y2="567.60" stroke="#39A6D6" stroke-width="1.0" />
<line x1="111.20" y1="571.60" x2="116.20" y2="571.60" stroke="#39A6D6" stroke-width="1.0" />
<path d="M113.70,567.30L116.00,569.60L113.70,571.90L111.40,569.60Z" fill="#39A6D6"/>
<line x1="64.30" y1="581.40" x2="113.70" y2="561.00" stroke="#3B2F5B" stroke-width="1.2" />
<line x1="64.30" y1="579.90" x2="64.30" y2="582.90" stroke="#3B2F5B" stroke-width="1.0" />
<line x1="61.80" y1="579.90" x2="66.80" y2="579.90" stroke="#3B2F5B" stroke-width="1.0" />
<line x1="61.80" y1="582.90" x2="66.80" y2="582.90" stroke="#3B2F5B" stroke-width="1.0" />
<circle cx="64.30" cy="581.40" r="2.10" fill="#3B2F5B"/>
<line x1="113.70" y1="555.80" x2="113.70" y2="566.20" stroke="#3B2F5B" stroke-width="1.0" />
<line x1="111.20" y1="555.80" x2="116.20" y2="555.80" stroke="#3B2F5B" stroke-width="1.0" />
<line x1="111.20" y1="566.20" x2="116.20" y2="566.20" stroke="#3B2F5B" stroke-width="1.0" />
<circle cx="113.70" cy="561.00" r="2.10" fill="#3B2F5B"/>
<line x1="64.30" y1="580.90" x2="113.70" y2="567.00" stroke="#2F9B42" stroke-width="1.2" />
<line x1="64.30" y1="576.40" x2="64.30" y2="585.40" stroke="#2F9B42" stroke-width="1.0" />
<line x1="61.80" y1="576.40" x2="66.80" y2="576.40" stroke="#2F9B42" stroke-width="1.0" />
<line x1="61.80" y1="585.40" x2="66.80" y2="585.40" stroke="#2F9B42" stroke-width="1.0" />
<path d="M64.30,578.71L66.39,582.79L62.21,582.79Z" fill="#2F9B42"/>
<line x1="113.70" y1="565.00" x2="113.70" y2="569.00" stroke="#2F9B42" stroke-width="1.0" />
<line x1="111.20" y1="565.00" x2="116.20" y2="565.00" stroke="#2F9B42" stroke-width="1.0" />
<line x1="111.20" y1="569.00" x2="116.20" y2="569.00" stroke="#2F9B42" stroke-width="1.0" />
<path d="M113.70,564.81L115.79,568.89L111.61,568.89Z" fill="#2F9B42"/>
<line x1="154.20" y1="551.50" x2="162.70" y2="551.50" stroke="#C8163A" stroke-width="1.3" />
<circle cx="158.50" cy="551.50" r="2.40" fill="#C8163A"/>
<text x="165.80" y="554.20" font-size="7.5" fill="#222" >LME-1</text>
<line x1="154.20" y1="564.84" x2="162.70" y2="564.84" stroke="#1E3F72" stroke-width="1.3" />
<rect x="156.10" y="562.44" width="4.80" height="4.80" fill="#1E3F72"/>
<text x="165.80" y="567.54" font-size="7.5" fill="#222" >MM1.S</text>
<line x1="154.20" y1="578.18" x2="162.70" y2="578.18" stroke="#2F9B42" stroke-width="1.3" />
<path d="M158.50,575.72L160.86,580.34L156.14,580.34Z" fill="#2F9B42"/>
<text x="165.80" y="580.88" font-size="7.5" fill="#222" >XG-1</text>
<line x1="154.20" y1="591.52" x2="162.70" y2="591.52" stroke="#F7B733" stroke-width="1.3" />
<path d="M158.50,593.98L160.86,589.36L156.14,589.36Z" fill="#F7B733"/>
<text x="165.80" y="594.22" font-size="7.5" fill="#222" >XG-3</text>
<line x1="154.20" y1="604.86" x2="162.70" y2="604.86" stroke="#39A6D6" stroke-width="1.3" />
<path d="M158.50,601.96L161.40,604.86L158.50,607.76L155.60,604.86Z" fill="#39A6D6"/>
<text x="165.80" y="607.56" font-size="7.5" fill="#222" >LP-1</text>
<line x1="154.20" y1="618.20" x2="162.70" y2="618.20" stroke="#3B2F5B" stroke-width="1.3" />
<circle cx="158.50" cy="618.20" r="2.40" fill="#3B2F5B"/>
<text x="165.80" y="620.90" font-size="7.5" fill="#222" >RPMI-8226</text>
<text x="219.00" y="539.60" font-size="10.8" font-weight="bold" fill="#111" >F</text>
<text x="277.20" y="548.70" font-size="8.2" text-anchor="middle" fill="#222" >LME-1</text>
<text x="320.80" y="548.70" font-size="8.2" text-anchor="middle" fill="#222" >LP-1</text>
<text x="363.90" y="548.70" font-size="8.2" text-anchor="middle" fill="#222" >XG-1</text>
<text x="263.30" y="560.00" font-size="6.8" text-anchor="middle" fill="#333" >+</text>
<text x="276.90" y="560.00" font-size="6.8" text-anchor="middle" fill="#333" >+</text>
<line x1="289.00" y1="557.60" x2="292.20" y2="557.60" stroke="#444" stroke-width="0.8" />
<line x1="261.70" y1="563.40" x2="264.90" y2="563.40" stroke="#444" stroke-width="0.8" />
<text x="276.90" y="565.80" font-size="6.8" text-anchor="middle" fill="#333" >+</text>
<line x1="289.00" y1="563.40" x2="292.20" y2="563.40" stroke="#444" stroke-width="0.8" />
<line x1="261.70" y1="569.40" x2="264.90" y2="569.40" stroke="#444" stroke-width="0.8" />
<line x1="275.30" y1="569.40" x2="278.50" y2="569.40" stroke="#444" stroke-width="0.8" />
<text x="290.60" y="571.80" font-size="6.8" text-anchor="middle" fill="#333" >+</text>
<text x="307.50" y="560.00" font-size="6.8" text-anchor="middle" fill="#333" >+</text>
<text x="321.90" y="560.00" font-size="6.8" text-anchor="middle" fill="#333" >+</text>
<line x1="332.80" y1="557.60" x2="336.00" y2="557.60" stroke="#444" stroke-width="0.8" />
<line x1="305.90" y1="563.40" x2="309.10" y2="563.40" stroke="#444" stroke-width="0.8" />
<text x="321.90" y="565.80" font-size="6.8" text-anchor="middle" fill="#333" >+</text>
<line x1="332.80" y1="563.40" x2="336.00" y2="563.40" stroke="#444" stroke-width="0.8" />
<line x1="305.90" y1="569.40" x2="309.10" y2="569.40" stroke="#444" stroke-width="0.8" />
<line x1="320.30" y1="569.40" x2="323.50" y2="569.40" stroke="#444" stroke-width="0.8" />
<text x="334.40" y="571.80" font-size="6.8" text-anchor="middle" fill="#333" >+</text>
<text x="351.20" y="560.00" font-size="6.8" text-anchor="middle" fill="#333" >+</text>
<text x="364.60" y="560.00" font-size="6.8" text-anchor="middle" fill="#333" >+</text>
<line x1="376.50" y1="557.60" x2="379.70" y2="557.60" stroke="#444" stroke-width="0.8" />
<line x1="349.60" y1="563.40" x2="352.80" y2="563.40" stroke="#444" stroke-width="0.8" />
<text x="364.60" y="565.80" font-size="6.8" text-anchor="middle" fill="#333" >+</text>
<line x1="376.50" y1="563.40" x2="379.70" y2="563.40" stroke="#444" stroke-width="0.8" />
<line x1="349.60" y1="569.40" x2="352.80" y2="569.40" stroke="#444" stroke-width="0.8" />
<line x1="363.00" y1="569.40" x2="366.20" y2="569.40" stroke="#444" stroke-width="0.8" />
<text x="378.10" y="571.80" font-size="6.8" text-anchor="middle" fill="#333" >+</text>
<text x="386.30" y="560.00" font-size="6.6" fill="#333" >Glucose</text>
<text x="386.30" y="565.80" font-size="6.6" fill="#333" >DCA</text>
<text x="386.30" y="571.80" font-size="6.6" fill="#333" >Galactose</text>
<defs><filter id="bl" x="-30%" y="-100%" width="160%" height="300%"><feGaussianBlur stdDeviation="1.0,0.75"/></filter><filter id="bl2" x="-30%" y="-100%" width="160%" height="300%"><feGaussianBlur stdDeviation="1.1"/></filter></defs>
<rect x="257.60" y="572.30" width="40.30" height="12.00" rx="1.2" fill="#ebebeb" stroke="#262626" stroke-width="1.1"/>
<rect x="258.90" y="573.60" width="37.70" height="9.40" fill="none" stroke="#dcdcdc" stroke-width="0.5"/>
<rect x="258.60" y="574.90" width="11.43" height="2.60" rx="1.2" fill="#111" fill-opacity="0.45" filter="url(#bl)"/>
<rect x="272.03" y="574.90" width="11.43" height="2.60" rx="1.2" fill="#111" fill-opacity="0.50" filter="url(#bl)"/>
<rect x="285.47" y="574.90" width="11.43" height="2.60" rx="1.2" fill="#111" fill-opacity="0.75" filter="url(#bl)"/>
<rect x="258.60" y="580.05" width="11.43" height="2.50" rx="1.2" fill="#111" fill-opacity="0.15" filter="url(#bl)"/>
<rect x="272.03" y="580.05" width="11.43" height="2.50" rx="1.2" fill="#111" fill-opacity="0.25" filter="url(#bl)"/>
<rect x="285.47" y="580.05" width="11.43" height="2.50" rx="1.2" fill="#111" fill-opacity="0.12" filter="url(#bl)"/>
<rect x="257.60" y="586.80" width="40.30" height="11.80" rx="1.2" fill="#ebebeb" stroke="#262626" stroke-width="1.1"/>
<rect x="258.90" y="588.10" width="37.70" height="9.20" fill="none" stroke="#dcdcdc" stroke-width="0.5"/>
<rect x="258.60" y="588.35" width="11.43" height="2.50" rx="1.2" fill="#111" fill-opacity="0.40" filter="url(#bl)"/>
<rect x="272.03" y="588.35" width="11.43" height="2.50" rx="1.2" fill="#111" fill-opacity="0.18" filter="url(#bl)"/>
<rect x="285.47" y="588.35" width="11.43" height="2.50" rx="1.2" fill="#111" fill-opacity="0.65" filter="url(#bl)"/>
<rect x="258.60" y="594.15" width="11.43" height="2.50" rx="1.2" fill="#111" fill-opacity="0.50" filter="url(#bl)"/>
<rect x="272.03" y="594.15" width="11.43" height="2.50" rx="1.2" fill="#111" fill-opacity="0.42" filter="url(#bl)"/>
<rect x="285.47" y="594.15" width="11.43" height="2.50" rx="1.2" fill="#111" fill-opacity="0.38" filter="url(#bl)"/>
<rect x="257.60" y="601.30" width="40.30" height="11.60" rx="1.2" fill="#ebebeb" stroke="#262626" stroke-width="1.1"/>
<rect x="258.90" y="602.60" width="37.70" height="9.00" fill="none" stroke="#dcdcdc" stroke-width="0.5"/>
<rect x="258.60" y="605.00" width="11.43" height="3.60" rx="1.2" fill="#111" fill-opacity="0.08" filter="url(#bl)"/>
<rect x="272.03" y="605.00" width="11.43" height="3.60" rx="1.2" fill="#111" fill-opacity="0.95" filter="url(#bl)"/>
<rect x="285.47" y="605.00" width="11.43" height="3.60" rx="1.2" fill="#111" fill-opacity="0.25" filter="url(#bl)"/>
<rect x="257.60" y="615.50" width="40.30" height="12.00" rx="1.2" fill="#ebebeb" stroke="#262626" stroke-width="1.1"/>
<rect x="258.90" y="616.80" width="37.70" height="9.40" fill="none" stroke="#dcdcdc" stroke-width="0.5"/>
<rect x="258.60" y="618.80" width="11.43" height="4.40" rx="1.2" fill="#111" fill-opacity="0.70" filter="url(#bl)"/>
<rect x="272.03" y="618.80" width="11.43" height="4.40" rx="1.2" fill="#111" fill-opacity="0.50" filter="url(#bl)"/>
<rect x="285.47" y="618.80" width="11.43" height="4.40" rx="1.2" fill="#111" fill-opacity="0.60" filter="url(#bl)"/>
<rect x="258.60" y="619.10" width="11.43" height="1.80" rx="1.2" fill="#111" fill-opacity="0.30" filter="url(#bl)"/>
<rect x="272.03" y="619.10" width="11.43" height="1.80" rx="1.2" fill="#111" fill-opacity="0.20" filter="url(#bl)"/>
<rect x="285.47" y="619.10" width="11.43" height="1.80" rx="1.2" fill="#111" fill-opacity="0.25" filter="url(#bl)"/>
<rect x="257.60" y="629.80" width="40.30" height="12.00" rx="1.2" fill="#ebebeb" stroke="#262626" stroke-width="1.1"/>
<rect x="258.90" y="631.10" width="37.70" height="9.40" fill="none" stroke="#dcdcdc" stroke-width="0.5"/>
<rect x="257.60" y="633.30" width="13.43" height="5.00" rx="1.2" fill="#111" fill-opacity="1.00" filter="url(#bl)"/>
<rect x="271.03" y="633.30" width="13.43" height="5.00" rx="1.2" fill="#111" fill-opacity="1.00" filter="url(#bl)"/>
<rect x="284.47" y="633.30" width="13.43" height="5.00" rx="1.2" fill="#111" fill-opacity="1.00" filter="url(#bl)"/>
<rect x="302.00" y="572.30" width="39.50" height="12.00" rx="1.2" fill="#ebebeb" stroke="#262626" stroke-width="1.1"/>
<rect x="303.30" y="573.60" width="36.90" height="9.40" fill="none" stroke="#dcdcdc" stroke-width="0.5"/>
<rect x="303.00" y="574.90" width="11.17" height="2.60" rx="1.2" fill="#111" fill-opacity="0.75" filter="url(#bl)"/>
<rect x="316.17" y="574.90" width="11.17" height="2.60" rx="1.2" fill="#111" fill-opacity="0.95" filter="url(#bl)"/>
<rect x="329.33" y="574.90" width="11.17" height="2.60" rx="1.2" fill="#111" fill-opacity="0.95" filter="url(#bl)"/>
<rect x="303.00" y="580.05" width="11.17" height="2.50" rx="1.2" fill="#111" fill-opacity="0.12" filter="url(#bl)"/>
<rect x="316.17" y="580.05" width="11.17" height="2.50" rx="1.2" fill="#111" fill-opacity="0.20" filter="url(#bl)"/>
<rect x="329.33" y="580.05" width="11.17" height="2.50" rx="1.2" fill="#111" fill-opacity="0.18" filter="url(#bl)"/>
<rect x="302.00" y="586.80" width="39.50" height="11.80" rx="1.2" fill="#ebebeb" stroke="#262626" stroke-width="1.1"/>
<rect x="303.30" y="588.10" width="36.90" height="9.20" fill="none" stroke="#dcdcdc" stroke-width="0.5"/>
<rect x="303.00" y="588.35" width="11.17" height="2.50" rx="1.2" fill="#111" fill-opacity="0.80" filter="url(#bl)"/>
<rect x="316.17" y="588.35" width="11.17" height="2.50" rx="1.2" fill="#111" fill-opacity="0.55" filter="url(#bl)"/>
<rect x="329.33" y="588.35" width="11.17" height="2.50" rx="1.2" fill="#111" fill-opacity="0.75" filter="url(#bl)"/>
<rect x="303.00" y="594.15" width="11.17" height="2.50" rx="1.2" fill="#111" fill-opacity="0.50" filter="url(#bl)"/>
<rect x="316.17" y="594.15" width="11.17" height="2.50" rx="1.2" fill="#111" fill-opacity="0.25" filter="url(#bl)"/>
<rect x="329.33" y="594.15" width="11.17" height="2.50" rx="1.2" fill="#111" fill-opacity="0.40" filter="url(#bl)"/>
<rect x="302.00" y="601.30" width="39.50" height="11.60" rx="1.2" fill="#ebebeb" stroke="#262626" stroke-width="1.1"/>
<rect x="303.30" y="602.60" width="36.90" height="9.00" fill="none" stroke="#dcdcdc" stroke-width="0.5"/>
<rect x="303.00" y="605.00" width="11.17" height="3.60" rx="1.2" fill="#111" fill-opacity="0.35" filter="url(#bl)"/>
<rect x="316.17" y="605.00" width="11.17" height="3.60" rx="1.2" fill="#111" fill-opacity="1.00" filter="url(#bl)"/>
<rect x="329.33" y="605.00" width="11.17" height="3.60" rx="1.2" fill="#111" fill-opacity="0.60" filter="url(#bl)"/>
<rect x="302.00" y="615.50" width="39.50" height="12.00" rx="1.2" fill="#ebebeb" stroke="#262626" stroke-width="1.1"/>
<rect x="303.30" y="616.80" width="36.90" height="9.40" fill="none" stroke="#dcdcdc" stroke-width="0.5"/>
<rect x="303.00" y="618.80" width="11.17" height="4.40" rx="1.2" fill="#111" fill-opacity="0.85" filter="url(#bl)"/>
<rect x="316.17" y="618.80" width="11.17" height="4.40" rx="1.2" fill="#111" fill-opacity="0.60" filter="url(#bl)"/>
<rect x="329.33" y="618.80" width="11.17" height="4.40" rx="1.2" fill="#111" fill-opacity="0.65" filter="url(#bl)"/>
<rect x="303.00" y="619.10" width="11.17" height="1.80" rx="1.2" fill="#111" fill-opacity="0.35" filter="url(#bl)"/>
<rect x="316.17" y="619.10" width="11.17" height="1.80" rx="1.2" fill="#111" fill-opacity="0.20" filter="url(#bl)"/>
<rect x="329.33" y="619.10" width="11.17" height="1.80" rx="1.2" fill="#111" fill-opacity="0.20" filter="url(#bl)"/>
<rect x="302.00" y="629.80" width="39.50" height="12.00" rx="1.2" fill="#ebebeb" stroke="#262626" stroke-width="1.1"/>
<rect x="303.30" y="631.10" width="36.90" height="9.40" fill="none" stroke="#dcdcdc" stroke-width="0.5"/>
<rect x="302.00" y="633.30" width="13.17" height="5.00" rx="1.2" fill="#111" fill-opacity="1.00" filter="url(#bl)"/>
<rect x="315.17" y="633.30" width="13.17" height="5.00" rx="1.2" fill="#111" fill-opacity="1.00" filter="url(#bl)"/>
<rect x="328.33" y="633.30" width="13.17" height="5.00" rx="1.2" fill="#111" fill-opacity="1.00" filter="url(#bl)"/>
<rect x="344.20" y="572.30" width="40.40" height="12.00" rx="1.2" fill="#ebebeb" stroke="#262626" stroke-width="1.1"/>
<rect x="345.50" y="573.60" width="37.80" height="9.40" fill="none" stroke="#dcdcdc" stroke-width="0.5"/>
<rect x="345.20" y="574.90" width="11.47" height="2.60" rx="1.2" fill="#111" fill-opacity="0.45" filter="url(#bl)"/>
<rect x="358.67" y="574.90" width="11.47" height="2.60" rx="1.2" fill="#111" fill-opacity="0.80" filter="url(#bl)"/>
<rect x="372.13" y="574.90" width="11.47" height="2.60" rx="1.2" fill="#111" fill-opacity="0.35" filter="url(#bl)"/>
<rect x="345.20" y="580.05" width="11.47" height="2.50" rx="1.2" fill="#111" fill-opacity="0.12" filter="url(#bl)"/>
<rect x="358.67" y="580.05" width="11.47" height="2.50" rx="1.2" fill="#111" fill-opacity="0.22" filter="url(#bl)"/>
<rect x="372.13" y="580.05" width="11.47" height="2.50" rx="1.2" fill="#111" fill-opacity="0.12" filter="url(#bl)"/>
<rect x="344.20" y="586.80" width="40.40" height="11.80" rx="1.2" fill="#ebebeb" stroke="#262626" stroke-width="1.1"/>
<rect x="345.50" y="588.10" width="37.80" height="9.20" fill="none" stroke="#dcdcdc" stroke-width="0.5"/>
<rect x="345.20" y="588.35" width="11.47" height="2.50" rx="1.2" fill="#111" fill-opacity="0.60" filter="url(#bl)"/>
<rect x="358.67" y="588.35" width="11.47" height="2.50" rx="1.2" fill="#111" fill-opacity="0.50" filter="url(#bl)"/>
<rect x="372.13" y="588.35" width="11.47" height="2.50" rx="1.2" fill="#111" fill-opacity="0.45" filter="url(#bl)"/>
<rect x="345.20" y="594.15" width="11.47" height="2.50" rx="1.2" fill="#111" fill-opacity="0.50" filter="url(#bl)"/>
<rect x="358.67" y="594.15" width="11.47" height="2.50" rx="1.2" fill="#111" fill-opacity="0.45" filter="url(#bl)"/>
<rect x="372.13" y="594.15" width="11.47" height="2.50" rx="1.2" fill="#111" fill-opacity="0.50" filter="url(#bl)"/>
<rect x="344.20" y="601.30" width="40.40" height="11.60" rx="1.2" fill="#ebebeb" stroke="#262626" stroke-width="1.1"/>
<rect x="345.50" y="602.60" width="37.80" height="9.00" fill="none" stroke="#dcdcdc" stroke-width="0.5"/>
<rect x="345.20" y="605.00" width="11.47" height="3.60" rx="1.2" fill="#111" fill-opacity="0.08" filter="url(#bl)"/>
<rect x="358.67" y="605.00" width="11.47" height="3.60" rx="1.2" fill="#111" fill-opacity="0.18" filter="url(#bl)"/>
<rect x="372.13" y="605.00" width="11.47" height="3.60" rx="1.2" fill="#111" fill-opacity="0.04" filter="url(#bl)"/>
<rect x="344.20" y="615.50" width="40.40" height="12.00" rx="1.2" fill="#ebebeb" stroke="#262626" stroke-width="1.1"/>
<rect x="345.50" y="616.80" width="37.80" height="9.40" fill="none" stroke="#dcdcdc" stroke-width="0.5"/>
<rect x="345.20" y="618.80" width="11.47" height="4.40" rx="1.2" fill="#111" fill-opacity="0.85" filter="url(#bl)"/>
<rect x="358.67" y="618.80" width="11.47" height="4.40" rx="1.2" fill="#111" fill-opacity="0.65" filter="url(#bl)"/>
<rect x="372.13" y="618.80" width="11.47" height="4.40" rx="1.2" fill="#111" fill-opacity="0.62" filter="url(#bl)"/>
<rect x="345.20" y="619.10" width="11.47" height="1.80" rx="1.2" fill="#111" fill-opacity="0.30" filter="url(#bl)"/>
<rect x="358.67" y="619.10" width="11.47" height="1.80" rx="1.2" fill="#111" fill-opacity="0.20" filter="url(#bl)"/>
<rect x="372.13" y="619.10" width="11.47" height="1.80" rx="1.2" fill="#111" fill-opacity="0.20" filter="url(#bl)"/>
<rect x="344.20" y="629.80" width="40.40" height="12.00" rx="1.2" fill="#ebebeb" stroke="#262626" stroke-width="1.1"/>
<rect x="345.50" y="631.10" width="37.80" height="9.40" fill="none" stroke="#dcdcdc" stroke-width="0.5"/>
<rect x="344.20" y="633.30" width="13.47" height="5.00" rx="1.2" fill="#111" fill-opacity="1.00" filter="url(#bl)"/>
<rect x="357.67" y="633.30" width="13.47" height="5.00" rx="1.2" fill="#111" fill-opacity="1.00" filter="url(#bl)"/>
<rect x="371.13" y="633.30" width="13.47" height="5.00" rx="1.2" fill="#111" fill-opacity="1.00" filter="url(#bl)"/>
<text x="251.60" y="579.40" font-size="6.1" text-anchor="end" textLength="24.2" lengthAdjust="spacingAndGlyphs" fill="#222" >100 kDa</text>
<line x1="253.30" y1="577.30" x2="257.00" y2="577.30" stroke="#222" stroke-width="0.9" />
<text x="251.60" y="585.00" font-size="6.1" text-anchor="end" textLength="21.0" lengthAdjust="spacingAndGlyphs" fill="#222" >80 kDa</text>
<line x1="253.30" y1="582.90" x2="257.00" y2="582.90" stroke="#222" stroke-width="0.9" />
<text x="251.60" y="591.80" font-size="6.1" text-anchor="end" textLength="24.2" lengthAdjust="spacingAndGlyphs" fill="#222" >100 kDa</text>
<line x1="253.30" y1="589.70" x2="257.00" y2="589.70" stroke="#222" stroke-width="0.9" />
<text x="251.60" y="598.10" font-size="6.1" text-anchor="end" textLength="21.0" lengthAdjust="spacingAndGlyphs" fill="#222" >80 kDa</text>
<line x1="253.30" y1="596.00" x2="257.00" y2="596.00" stroke="#222" stroke-width="0.9" />
<text x="251.60" y="610.00" font-size="6.1" text-anchor="end" textLength="21.0" lengthAdjust="spacingAndGlyphs" fill="#222" >60 kDa</text>
<line x1="253.30" y1="607.90" x2="257.00" y2="607.90" stroke="#222" stroke-width="0.9" />
<text x="251.60" y="623.30" font-size="6.1" text-anchor="end" textLength="21.0" lengthAdjust="spacingAndGlyphs" fill="#222" >60 kDa</text>
<line x1="253.30" y1="621.20" x2="257.00" y2="621.20" stroke="#222" stroke-width="0.9" />
<text x="251.60" y="637.30" font-size="6.1" text-anchor="end" textLength="21.0" lengthAdjust="spacingAndGlyphs" fill="#222" >42 kDa</text>
<line x1="253.30" y1="635.20" x2="257.00" y2="635.20" stroke="#222" stroke-width="0.9" />
<path d="M387.2,575.70L392.2,575.70M387.2,575.70l2.2,-1.4v2.8z" stroke="#222" stroke-width="0.9" fill="#222"/>
<text x="393.80" y="578.00" font-size="6.5" fill="#222" >p-FOXO3(T32)</text>
<path d="M387.2,581.70L392.2,581.70M387.2,581.70l2.2,-1.4v2.8z" stroke="#222" stroke-width="0.9" fill="#222"/>
<text x="393.80" y="584.00" font-size="6.5" fill="#222" >p-FOXO1(T24)</text>
<path d="M387.2,589.00L392.2,589.00M387.2,589.00l2.2,-1.4v2.8z" stroke="#222" stroke-width="0.9" fill="#222"/>
<text x="393.80" y="591.30" font-size="6.5" fill="#222" >FOXO3</text>
<path d="M387.2,596.20L392.2,596.20M387.2,596.20l2.2,-1.4v2.8z" stroke="#222" stroke-width="0.9" fill="#222"/>
<text x="393.80" y="598.50" font-size="6.5" fill="#222" >FOXO1</text>
<path d="M387.2,606.30L392.2,606.30M387.2,606.30l2.2,-1.4v2.8z" stroke="#222" stroke-width="0.9" fill="#222"/>
<text x="393.80" y="608.60" font-size="6.5" fill="#222" >p-AKT(S473)</text>
<path d="M387.2,620.70L392.2,620.70M387.2,620.70l2.2,-1.4v2.8z" stroke="#222" stroke-width="0.9" fill="#222"/>
<text x="393.80" y="623.00" font-size="6.5" fill="#222" >AKT</text>
<path d="M387.2,637.00L392.2,637.00M387.2,637.00l2.2,-1.4v2.8z" stroke="#222" stroke-width="0.9" fill="#222"/>
<text x="393.80" y="639.30" font-size="6.5" fill="#222" >&#946;-actin</text>
</g>
</svg></body></html>
